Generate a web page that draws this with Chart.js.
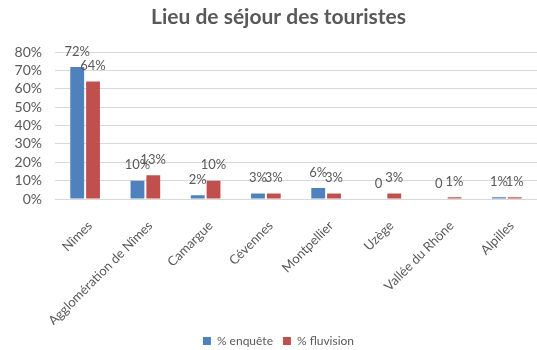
<!DOCTYPE html>
<html>
<head>
<meta charset="utf-8">
<title>Lieu de séjour des touristes</title>
<style>
  html, body { margin: 0; padding: 0; background: #fff; }
  #wrap { width: 537px; height: 350px; }
</style>
</head>
<body>
<div id="wrap"><canvas id="myChart" width="537" height="350"></canvas></div>
<script src="https://cdn.jsdelivr.net/npm/chart.js"></script>
<script>
  // Data
  const lieux = ['Nîmes', 'Agglomération de Nîmes', 'Camargue', 'Cévennes', 'Montpellier', 'Uzège', 'Vallée du Rhône', 'Alpilles'];
  const enquete = [72, 10, 2, 3, 6, 0, 0, 1];
  const fluvision = [64, 13, 10, 3, 3, 3, 1, 1];
  const yTicks = [0, 10, 20, 30, 40, 50, 60, 70, 80];

  const FONT = 'Lato, "Open Sans", sans-serif';
  const GREY = '#595959';

  // value labels above each bar ("0" stays without the % sign)
  const barLabels = {
    id: 'barLabels',
    afterDatasetsDraw(chart) {
      const ctx = chart.ctx;
      ctx.save();
      ctx.font = '13px ' + FONT;
      ctx.fillStyle = GREY;
      ctx.textAlign = 'center';
      ctx.textBaseline = 'bottom';
      chart.data.datasets.forEach((ds, i) => {
        chart.getDatasetMeta(i).data.forEach((bar, j) => {
          const v = ds.data[j];
          const txt = v === 0 ? '0' : v + '%';
          ctx.fillText(txt, bar.x, bar.y - 9);
        });
      });
      ctx.restore();
    }
  };

  const config = {
    type: 'bar',
    data: {
      labels: lieux,
      datasets: [
        { label: '% enquête', data: enquete, backgroundColor: '#4F81BD' },
        { label: '% fluvision', data: fluvision, backgroundColor: '#C0504D' }
      ]
    },
    options: {
      responsive: false,
      animation: false,
      layout: { padding: { left: 14, right: -6, top: 0, bottom: -7 } },
      datasets: { bar: { categoryPercentage: 0.525, barPercentage: 0.875 } },
      plugins: {
        title: {
          display: true,
          text: 'Lieu de séjour des touristes',
          color: GREY,
          font: { family: FONT, size: 21, weight: 'bold' },
          padding: { top: 5, bottom: 22 }
        },
        legend: {
          position: 'bottom',
          labels: {
            color: GREY,
            font: { family: FONT, size: 12 },
            boxWidth: 8,
            boxHeight: 8,
            padding: 10
          }
        },
        tooltip: { enabled: false }
      },
      scales: {
        x: {
          grid: { display: false },
          border: { color: '#d9d9d9' },
          afterFit(scale) { scale.height = 126; },
          ticks: {
            color: GREY,
            font: { family: FONT, size: 13 },
            minRotation: 45,
            maxRotation: 45,
            padding: 11,
            labelOffset: 5
          }
        },
        y: {
          min: 0,
          max: 80,
          afterBuildTicks(scale) { scale.ticks = yTicks.map(v => ({ value: v })); },
          afterFit(scale) {
            scale.width = 41;
            // let the % labels run past the narrow axis box
            scale._computeLabelArea = () => undefined;
          },
          grid: { color: '#d9d9d9', drawTicks: false },
          border: { display: false },
          ticks: {
            autoSkip: false,
            color: GREY,
            font: { family: FONT, size: 14 },
            padding: 13,
            callback: v => v + '%'
          }
        }
      }
    },
    plugins: [barLabels]
  };

  const myChart = new Chart(document.getElementById('myChart'), config);
</script>
</body>
</html>
